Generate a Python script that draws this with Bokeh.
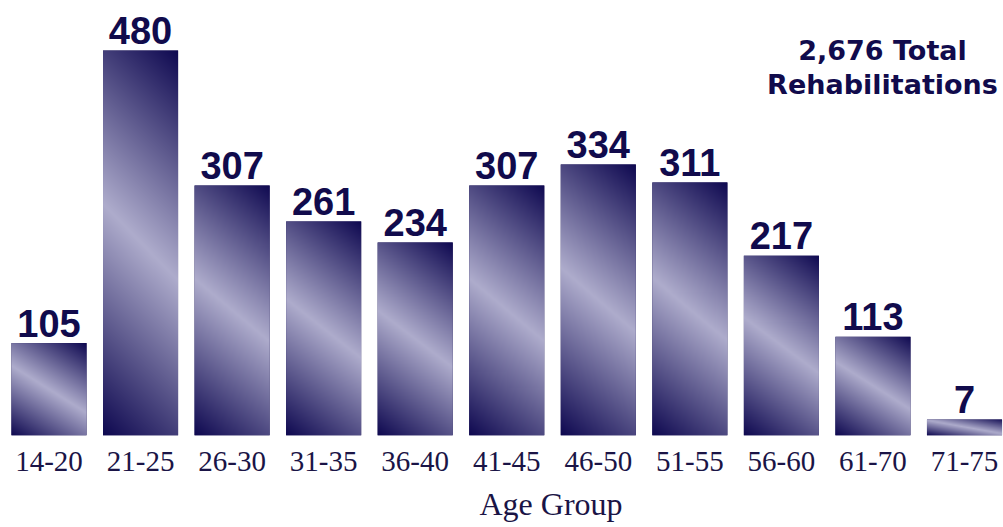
import numpy as np
from bokeh.plotting import figure
from bokeh.models import Range1d, FixedTicker, Label, Title
from bokeh.core.properties import value
from bokeh.embed import file_html
from bokeh.resources import INLINE

# ---- data ----
age_groups = ["14-20", "21-25", "26-30", "31-35", "36-40", "41-45",
              "46-50", "51-55", "56-60", "61-70", "71-75"]
rehabilitations = [105, 480, 307, 261, 234, 307, 334, 311, 217, 113, 7]
total_line1 = "2,676 Total"
total_line2 = "Rehabilitations"
x_title = "Age Group"

# ---- style constants ----
PX_X = 91.55          # pixels per category
PX_Y = 0.78           # pixels per unit
BAR_W = 0.82
BASE = -13.5          # baseline of bars (data units)
FRAME_W, FRAME_H = 1003, 435
FIRST_CENTER = 48.5
NAVY = "#110b4c"
DARK = np.array([14, 8, 80], dtype=float)
LIGHT = np.array([174, 172, 204], dtype=float)


def gradient(h_px, w_px):
    ny = max(int(round(h_px)), 2)
    nx = max(int(round(w_px)), 2)
    xs = np.arange(nx) + 0.5 - nx / 2.0
    ys = np.arange(ny) + 0.5 - ny / 2.0       # downward positive
    X, Y = np.meshgrid(xs, ys)
    ratio = h_px / w_px
    m = min(0.5 + 0.1 * ratio, 0.8 * ratio)
    d = Y - m * X
    half = ny / 2.0 + m * nx / 2.0
    t = np.clip(1 - np.abs(d) / half, 0, 1)
    col = DARK + (LIGHT - DARK) * t[..., None]
    img = np.empty((ny, nx), dtype=np.uint32)
    view = img.view(dtype=np.uint8).reshape((ny, nx, 4))
    view[..., 0:3] = np.round(col).astype(np.uint8)
    view[..., 3] = 255
    return img[::-1]


idx = list(range(len(age_groups)))
x0 = -FIRST_CENTER / PX_X
x1 = (FRAME_W - FIRST_CENTER) / PX_X

p = figure(frame_width=FRAME_W, frame_height=FRAME_H,
           x_range=Range1d(x0, x1), y_range=Range1d(BASE, BASE + FRAME_H / PX_Y),
           output_backend="svg", toolbar_location=None, y_axis_location=None,
           min_border_left=0, min_border_right=0, min_border_top=0, min_border_bottom=0)
p.outline_line_color = None
p.grid.visible = False
p.background_fill_color = "white"
p.border_fill_color = "white"

# base bars (solid) then gradient images on top
p.vbar(x=idx, top=rehabilitations, bottom=BASE, width=BAR_W,
       fill_color=NAVY, line_color=None)

images = []
xs_img, ws_img, hs_img = [], [], []
for i, v in zip(idx, rehabilitations):
    h_units = v - BASE
    images.append(gradient(h_units * PX_Y, BAR_W * PX_X))
    xs_img.append(i - BAR_W / 2)
    ws_img.append(BAR_W)
    hs_img.append(h_units)
p.image_rgba(image=images, x=xs_img, y=BASE, dw=ws_img, dh=hs_img)

p.text(x=idx, y=rehabilitations, text=[str(v) for v in rehabilitations],
       text_align="center", text_baseline="alphabetic", y_offset=-20,
       text_font=value("Liberation Sans"), text_font_style="bold",
       text_font_size="38px", text_color=NAVY)

ax = p.xaxis[0]
ax.ticker = FixedTicker(ticks=idx)
ax.major_label_overrides = {i: g for i, g in zip(idx, age_groups)}
ax.axis_line_color = None
ax.major_tick_line_color = None
ax.minor_tick_line_color = None
ax.major_label_standoff = 10
ax.major_label_text_font = "Liberation Serif"
ax.major_label_text_font_size = "29px"
ax.major_label_text_color = "#1a1446"

t = Title(text=x_title, align="left", offset=479, text_font="Liberation Serif",
          text_font_size="32px", text_font_style="normal", text_color="#1a1446",
          standoff=20)
p.add_layout(t, "below")

for txt, yy in ((total_line1, 385), (total_line2, 351)):
    p.add_layout(Label(x=882, y=yy, x_units="screen", y_units="screen", text=txt,
                       text_align="center", text_baseline="alphabetic",
                       text_font="DejaVu Sans", text_font_style="bold",
                       text_font_size="27px", text_color=NAVY))

open("out.html", "w").write(file_html(p, INLINE))
